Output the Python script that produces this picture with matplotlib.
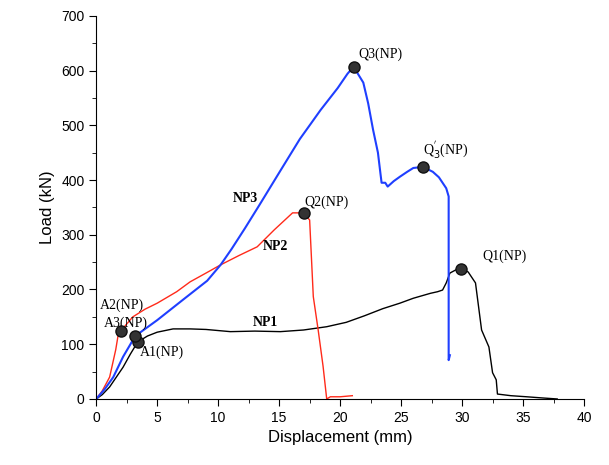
import matplotlib
matplotlib.use("Agg")
import matplotlib.pyplot as plt
from matplotlib.ticker import MultipleLocator

# NP1 (black)
np1_x = [0, 0.5, 1.1, 2.2, 2.8, 3.4, 4.2, 5.0, 6.3, 7.7, 9.0, 11.0, 13.0, 15.1, 17.0, 18.9, 20.5, 22.0,
         23.5, 24.9, 26.0, 27.4, 28.0, 28.4, 28.7, 29.0, 29.5, 29.9, 30.5, 31.1, 31.6, 32.2, 32.5,
         32.8, 32.9, 34.0, 35.3, 36.5, 37.8]
np1_y = [0, 8, 22, 58, 82, 104, 115, 122, 128, 128, 127, 123, 124, 123, 126, 132, 140, 152,
         165, 175, 184, 193, 196, 199, 212, 230, 236, 238, 232, 212, 126, 95, 48,
         35, 9, 6, 4, 2, 0]

# NP2 (red)
np2_x = [0, 0.5, 1.1, 1.6, 1.8, 2.0, 3.0, 4.0, 5.0, 6.6, 7.7, 9.0, 10.2, 11.7, 13.2, 14.6, 16.1,
         17.0, 17.5, 17.8, 18.2, 18.6, 18.9, 19.2, 20.0, 21.0]
np2_y = [0, 15, 40, 90, 117, 124, 150, 164, 175, 196, 214, 230, 245, 262, 278, 309, 340,
         340, 327, 187, 126, 60, 0, 4, 4, 6]

# NP3 (blue)
np3_x = [0, 0.7, 1.4, 2.2, 3.2, 5.0, 7.1, 9.1, 10.2, 11.1, 12.2, 13.4, 15.1, 16.7, 17.6, 18.4,
         19.8, 20.6, 21.1, 21.9, 22.3, 22.7, 23.1, 23.3, 23.4, 23.7, 23.9, 24.4, 24.9, 25.5, 26.0,
         26.8, 27.6, 28.1, 28.4, 28.7, 28.9, 28.9, 28.9, 29.0]
np3_y = [0, 18, 40, 77, 115, 144, 181, 216, 245, 274, 312, 355, 417, 475, 503, 528,
         568, 594, 607, 578, 540, 492, 450, 413, 395, 395, 388, 398, 406, 415, 422,
         424, 415, 405, 395, 385, 370, 200, 71, 80]

# marked points
pts_x = [3.4, 2.0, 3.2, 29.9, 17.0, 21.1, 26.8]
pts_y = [104, 124, 115, 238, 340, 607, 424]

fig = plt.figure(figsize=(6.09, 4.65), dpi=100)
ax = fig.add_axes([0.158, 0.142, 0.801, 0.824])

ax.plot(np1_x, np1_y, color="black", lw=1.0)
ax.plot(np2_x, np2_y, color="#ff2a1a", lw=1.0)
ax.plot(np3_x, np3_y, color="#1f3fff", lw=1.5)
ax.plot(pts_x, pts_y, "o", ms=8, color="#333333", mec="#111111", zorder=5)

serif = "Liberation Serif"
ax.text(21.5, 629, "Q3(NP)", fontsize=10, family=serif, va="center")
ax.text(26.8, 455, "Q$_3^{'}$(NP)", fontsize=10, family=serif, va="center")
ax.text(17.1, 360, "Q2(NP)", fontsize=10, family=serif, va="center")
ax.text(31.7, 261, "Q1(NP)", fontsize=10, family=serif, va="center")
ax.text(0.3, 172, "A2(NP)", fontsize=10, family=serif, va="center")
ax.text(0.6, 139, "A3(NP)", fontsize=10, family=serif, va="center")
ax.text(3.6, 86, "A1(NP)", fontsize=10, family=serif, va="center")
ax.text(13.9, 139, "NP1", fontsize=10, family=serif, weight="bold", ha="center", va="center")
ax.text(14.7, 278, "NP2", fontsize=10, family=serif, weight="bold", ha="center", va="center")
ax.text(12.2, 366, "NP3", fontsize=10, family=serif, weight="bold", ha="center", va="center")

ax.set_xlim(0, 40)
ax.set_ylim(0, 700)
ax.xaxis.set_major_locator(MultipleLocator(5))
ax.xaxis.set_minor_locator(MultipleLocator(2.5))
ax.yaxis.set_major_locator(MultipleLocator(100))
ax.yaxis.set_minor_locator(MultipleLocator(50))
ax.spines["top"].set_visible(False)
ax.spines["right"].set_visible(False)
ax.tick_params(which="major", direction="out", length=5, labelsize=10)
ax.tick_params(which="minor", direction="out", length=3)
for lab in ax.get_xticklabels() + ax.get_yticklabels():
    lab.set_family("Liberation Sans")

ax.set_xlabel("Displacement (mm)", fontsize=12, family="Liberation Sans")
ax.set_ylabel("Load (kN)", fontsize=12, family="Liberation Sans")

fig.savefig("out.png", dpi=100)
